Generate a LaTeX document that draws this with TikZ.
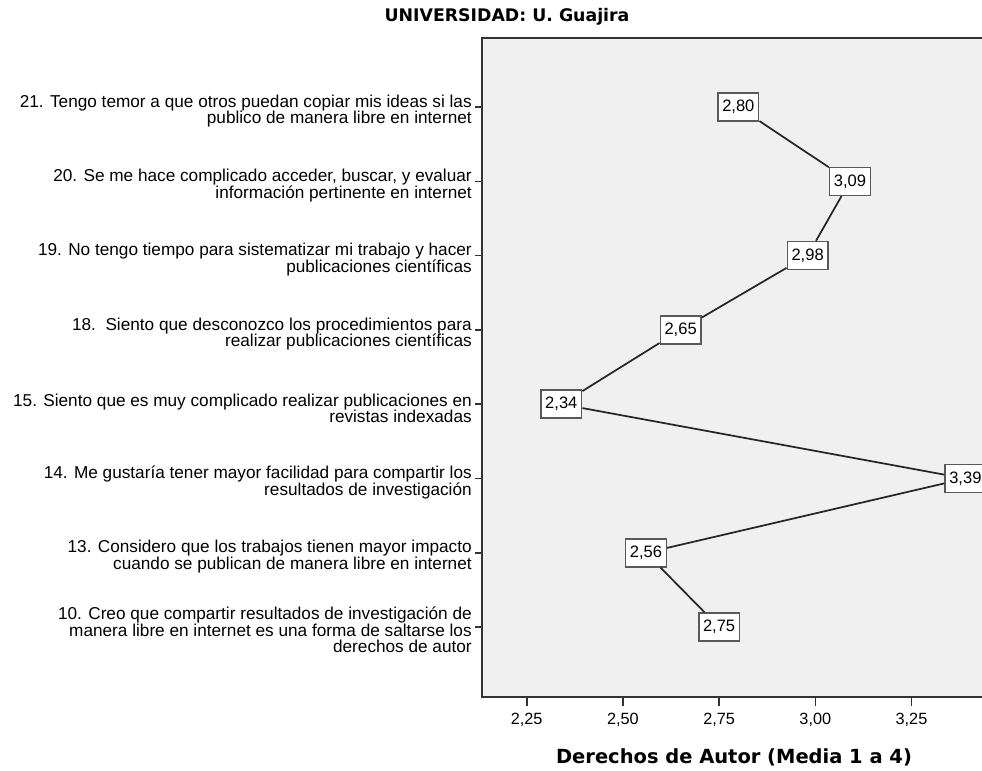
\documentclass[tikz,border=0pt]{standalone}
\usepackage{fontspec}
\setmainfont{Liberation Sans}
\newfontfamily\ttlfont{DejaVu Sans}
\definecolor{cbg}{gray}{.94}
\definecolor{cbx}{gray}{.35}
\definecolor{cfr}{gray}{.2}
\newcommand*{\xv}[1]{526.7+(#1-2.25)*384.8}
\tikzset{
    frm/.style={cfr, line width=1.2pt},
    ln/.style={black!85, line width=1.3pt},
    itm/.style={anchor=east, align=right, inner sep=0pt,
        font=\fontsize{12.9}{12.4}\selectfont},
    val/.style={draw=cbx, fill=white, line width=1.1pt, inner sep=0pt,
        minimum width=30.5pt, minimum height=21pt,
        font=\fontsize{12.4}{13}\selectfont},
    tck/.style={font=\fontsize{12.2}{13}\selectfont},
}

\begin{document}
\begin{tikzpicture}[x=.75pt, y=-.75pt]
    \useasboundingbox(0, 0) rectangle (982, 771);
    \fill[cbg](482, 38) rectangle (990, 697);
    \draw[frm](990, 38) -- (482, 38) -- (482, 697) -- (990, 697);
    % x axis
    \foreach \v/\t [count=\i] in {2.25/{2,25}, 2.5/{2,50}, 2.75/{2,75}, 3/{3,00}, 3.25/{3,25}}{
        \draw[frm]({\xv{\v}}, 697) -- ({\xv{\v}}, 706);
        \node[tck](t\i) at ({\xv{\v}}, 720){\t};
    }
    \node[font=\ttlfont\bfseries\fontsize{14.6}{16}\selectfont](xttl) at (734, 757){Derechos de Autor (Media 1 a 4)};
    \node[font=\ttlfont\bfseries\fontsize{13}{15}\selectfont](ttl) at (507, 17){UNIVERSIDAD: U. Guajira};
    % y axis
    \foreach \i in {0, ..., 7}
        \draw[frm](475, {107+74.3*\i}) -- (482, {107+74.3*\i});
    \node[itm](q21) at (472, 111){21. Tengo temor a que otros puedan copiar mis ideas si las\\publico de manera libre en internet};
    \node[itm](q20) at (472, 185.3){20. Se me hace complicado acceder, buscar, y evaluar\\información pertinente en internet};
    \node[itm](q19) at (472, 259.6){19. No tengo tiempo para sistematizar mi trabajo y hacer\\publicaciones científicas};
    \node[itm](q18) at (472, 333.9){18.\ \ Siento que desconozco los procedimientos para\\realizar publicaciones científicas};
    \node[itm](q15) at (472, 408.2){15. Siento que es muy complicado realizar publicaciones en\\revistas indexadas};
    \node[itm](q14) at (472, 482.5){14. Me gustaría tener mayor facilidad para compartir los\\resultados de investigación};
    \node[itm](q13) at (472, 556.8){13. Considero que los trabajos tienen mayor impacto\\cuando se publican de manera libre en internet};
    \node[itm](q10) at (472, 630){10. Creo que compartir resultados de investigación de\\manera libre en internet es una forma de saltarse los\\derechos de autor};
    % medias
    \foreach \n/\v/\t [count=\i] in {21/2.80/{2,80}, 20/3.09/{3,09}, 19/2.98/{2,98}, 18/2.65/{2,65},
        15/2.34/{2,34}, 14/3.39/{3,39}, 13/2.56/{2,56}, 10/2.75/{2,75}}
        \node[val](p\n) at ({\xv{\v}}, {107+74.3*(\i-1)}){\t};
    \draw[ln](p21) -- (p20) -- (p19) -- (p18) -- (p15) -- (p14) -- (p13) -- (p10);
\end{tikzpicture}
\end{document}
